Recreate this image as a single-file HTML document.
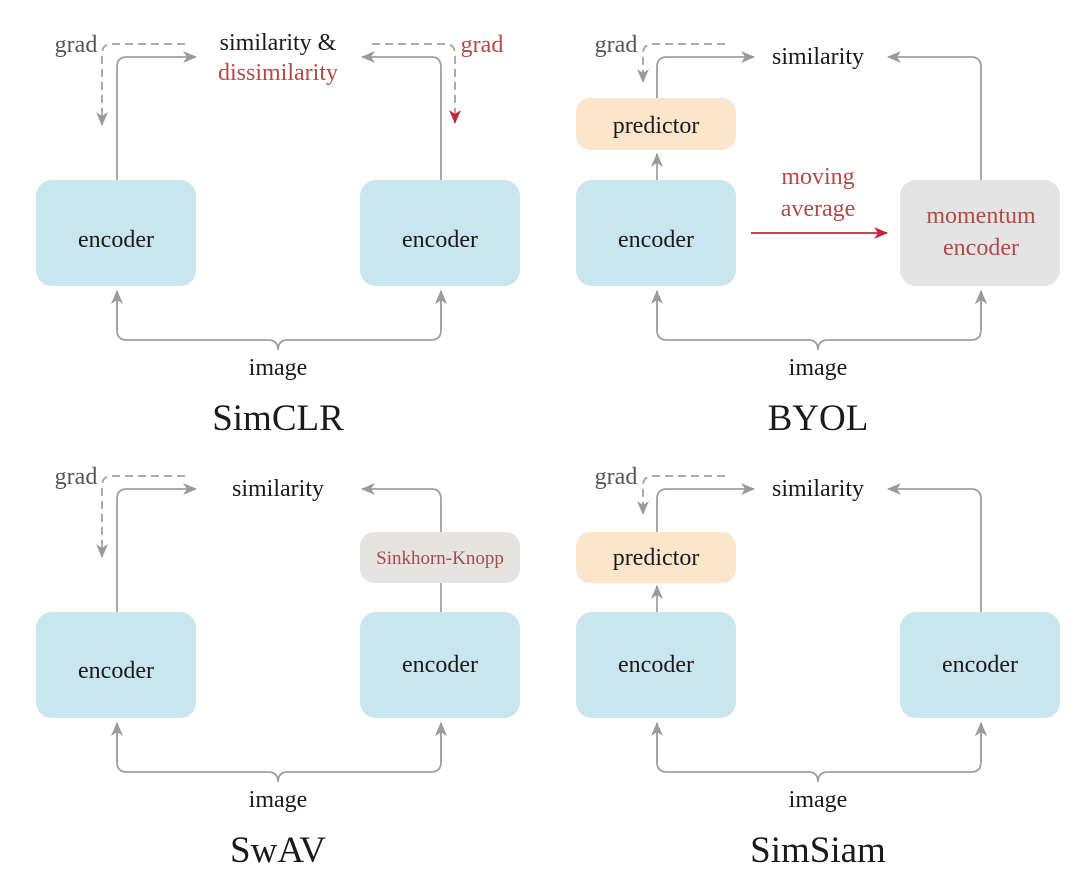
<!DOCTYPE html>
<html><head><meta charset="utf-8"><style>
html,body{margin:0;padding:0;background:#fff;}
svg{display:block;font-family:"Liberation Serif",serif;}
</style></head><body>
<svg width="1080" height="884" viewBox="0 0 1080 884" xmlns="http://www.w3.org/2000/svg">
<defs>
<marker id="g" markerWidth="14" markerHeight="14" refX="13" refY="7" orient="auto" markerUnits="userSpaceOnUse"><path d="M0,1 L14,7 L0,13 L4,7 z" fill="#9a9a9a"/></marker>
<marker id="r" markerWidth="14" markerHeight="14" refX="13" refY="7" orient="auto" markerUnits="userSpaceOnUse"><path d="M0,1 L14,7 L0,13 L4,7 z" fill="#c0283a"/></marker>
<g id="bottom" fill="none" stroke="#a0a0a0" stroke-width="1.8">
<path d="M117,291 V330 Q117,340 127,340 H268 Q278,340 278,350 Q278,340 288,340 H431 Q441,340 441,330 V291" marker-end="url(#g)"/>
<path d="M117,330 V291" marker-end="url(#g)"/>
</g>
</defs>
<g fill="#1a1a1a" font-size="24" text-anchor="middle">
<!-- ===== SimCLR ===== -->
<g>
<rect x="36" y="180" width="160" height="106" rx="16" fill="#c9e5f0"/>
<rect x="360" y="180" width="160" height="106" rx="16" fill="#c9e5f0"/>
<text x="116" y="247">encoder</text><text x="440" y="247">encoder</text>
<g fill="none" stroke="#a0a0a0" stroke-width="1.8">
<path d="M117,180 V67 Q117,57 127,57 H196" marker-end="url(#g)"/>
<path d="M441,180 V67 Q441,57 431,57 H362" marker-end="url(#g)"/>
<path d="M185,44 H112 Q102,44 102,54 V125" stroke-dasharray="8,5" marker-end="url(#g)"/>
<path d="M372,44 H445 Q455,44 455,54 V123" stroke-dasharray="8,5" marker-end="url(#r)"/>
<path d="M441,330 V291" marker-end="url(#g)"/>
</g>
<use href="#bottom"/>
<text x="278" y="50">similarity &amp;</text>
<text x="278" y="80" fill="#b24a45">dissimilarity</text>
<text x="76" y="52" fill="#555">grad</text>
<text x="482" y="52" fill="#b24a45">grad</text>
<text x="278" y="375">image</text>
<text x="278" y="430" font-size="37">SimCLR</text>
</g>
<!-- ===== BYOL ===== -->
<g transform="translate(540,0)">
<rect x="36" y="98" width="160" height="52" rx="14" fill="#fbe6cc"/>
<rect x="36" y="180" width="160" height="106" rx="16" fill="#c9e5f0"/>
<rect x="360" y="180" width="160" height="106" rx="16" fill="#e4e4e4"/>
<text x="116" y="133">predictor</text>
<text x="116" y="247">encoder</text>
<text x="441" y="223" fill="#b24a45">momentum</text>
<text x="441" y="255" fill="#b24a45">encoder</text>
<text x="278" y="184" fill="#b24a45">moving</text>
<text x="278" y="216" fill="#b24a45">average</text>
<g fill="none" stroke="#a0a0a0" stroke-width="1.8">
<path d="M117,98 V67 Q117,57 127,57 H214" marker-end="url(#g)"/>
<path d="M441,180 V67 Q441,57 431,57 H348" marker-end="url(#g)"/>
<path d="M117,180 V154" marker-end="url(#g)"/>
<path d="M185,44 H113 Q103,44 103,54 V82" stroke-dasharray="8,5" marker-end="url(#g)"/>
<path d="M441,330 V291" marker-end="url(#g)"/>
<path d="M211,233 H347" stroke="#c0283a" marker-end="url(#r)"/>
</g>
<use href="#bottom"/>
<text x="278" y="64">similarity</text>
<text x="76" y="52" fill="#555">grad</text>
<text x="278" y="375">image</text>
<text x="278" y="430" font-size="37">BYOL</text>
</g>
<!-- ===== SwAV ===== -->
<g transform="translate(0,432)">
<rect x="36" y="180" width="160" height="106" rx="16" fill="#c9e5f0"/>
<rect x="360" y="180" width="160" height="106" rx="16" fill="#c9e5f0"/>
<rect x="360" y="100" width="160" height="51" rx="14" fill="#e6e3e3"/>
<text x="116" y="246">encoder</text><text x="440" y="240">encoder</text>
<text x="440" y="132" font-size="19" fill="#a84a48">Sinkhorn-Knopp</text>
<g fill="none" stroke="#a0a0a0" stroke-width="1.8">
<path d="M117,180 V67 Q117,57 127,57 H196" marker-end="url(#g)"/>
<path d="M441,180 V151"/>
<path d="M441,100 V67 Q441,57 431,57 H362" marker-end="url(#g)"/>
<path d="M185,44 H112 Q102,44 102,54 V125" stroke-dasharray="8,5" marker-end="url(#g)"/>
<path d="M441,330 V291" marker-end="url(#g)"/>
</g>
<use href="#bottom"/>
<text x="278" y="64">similarity</text>
<text x="76" y="52" fill="#555">grad</text>
<text x="278" y="375">image</text>
<text x="278" y="430" font-size="37">SwAV</text>
</g>
<!-- ===== SimSiam ===== -->
<g transform="translate(540,432)">
<rect x="36" y="100" width="160" height="51" rx="14" fill="#fbe6cc"/>
<rect x="36" y="180" width="160" height="106" rx="16" fill="#c9e5f0"/>
<rect x="360" y="180" width="160" height="106" rx="16" fill="#c9e5f0"/>
<text x="116" y="133">predictor</text>
<text x="116" y="240">encoder</text><text x="440" y="240">encoder</text>
<g fill="none" stroke="#a0a0a0" stroke-width="1.8">
<path d="M117,100 V67 Q117,57 127,57 H214" marker-end="url(#g)"/>
<path d="M441,180 V67 Q441,57 431,57 H348" marker-end="url(#g)"/>
<path d="M117,180 V154" marker-end="url(#g)"/>
<path d="M185,44 H113 Q103,44 103,54 V82" stroke-dasharray="8,5" marker-end="url(#g)"/>
<path d="M441,330 V291" marker-end="url(#g)"/>
</g>
<use href="#bottom"/>
<text x="278" y="64">similarity</text>
<text x="76" y="52" fill="#555">grad</text>
<text x="278" y="375">image</text>
<text x="278" y="430" font-size="37">SimSiam</text>
</g>
</g>
</svg>
</body></html>
